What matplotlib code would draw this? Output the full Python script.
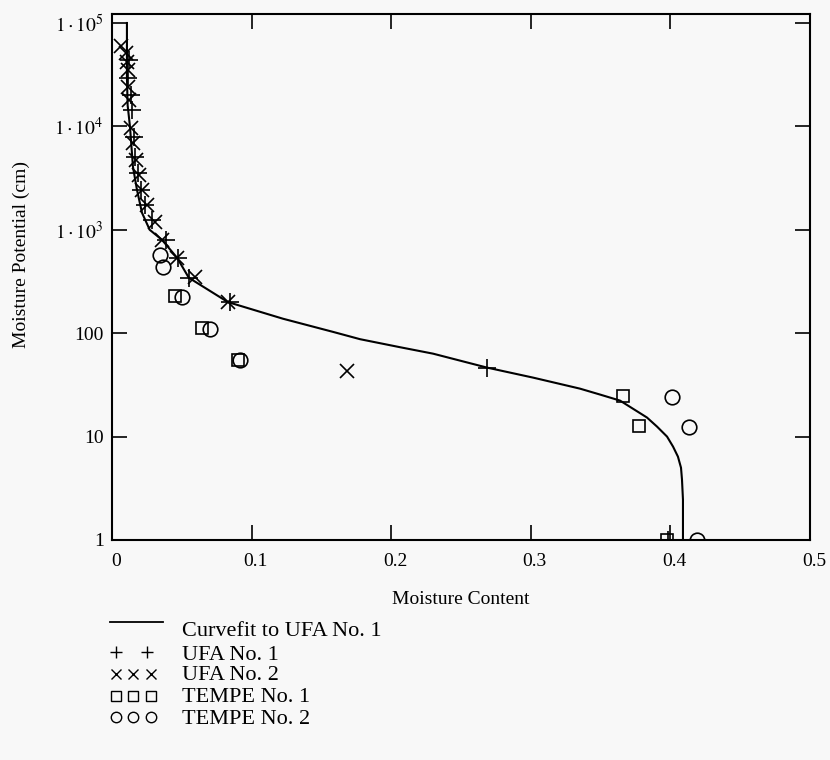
import matplotlib
matplotlib.use("Agg")
import matplotlib.pyplot as plt
import matplotlib.transforms as mtransforms
from matplotlib.lines import Line2D

plt.rcParams["font.family"] = ["Liberation Serif", "DejaVu Serif"]
plt.rcParams["mathtext.fontset"] = "stix"

# curve fit to UFA No. 1 (moisture content, potential in cm)
curve_theta = [0.0107, 0.0107, 0.0112, 0.0129, 0.0150, 0.0179, 0.0215, 0.0270, 0.0358, 0.0466,
               0.0550, 0.0830, 0.1225, 0.1583, 0.1777, 0.2063, 0.2300, 0.2686, 0.3016, 0.3352,
               0.3496, 0.3639, 0.3832, 0.3904, 0.3976, 0.4019, 0.4054, 0.4076, 0.4083, 0.4090,
               0.4090, 0.4090]
curve_h = [1e5, 3e4, 1.6e4, 9890, 4070, 2430, 1460, 1000, 800, 537,
           344, 200, 138, 103, 87.5, 73.2, 63.4, 46.5, 37.2, 29.1,
           25.5, 22.3, 15.3, 12.5, 10, 8.0, 6.4, 5.0, 3.84, 2.46,
           2.0, 1.0]

# UFA No. 1
ufa1_theta = [0.0122, 0.0115, 0.0136, 0.0143, 0.0158, 0.0165, 0.0186, 0.0208, 0.0236, 0.0287,
              0.0387, 0.0473, 0.0552, 0.0845, 0.2686, 0.3983]
ufa1_h = [43950, 29400, 20100, 14400, 7920, 5070, 3550, 2430, 1745, 1250,
          800, 536, 344, 201, 46.4, 1.0]

# UFA No. 2
ufa2_theta = [0.0064, 0.0100, 0.0107, 0.0115, 0.0115, 0.0122, 0.0136, 0.0150, 0.0172, 0.0193,
              0.0215, 0.0251, 0.0308, 0.0358, 0.0466, 0.0595, 0.0831, 0.1683]
ufa2_h = [60000, 51300, 42000, 35100, 24100, 18000, 9700, 6930, 4740, 3400,
          2430, 1745, 1195, 800, 536, 351, 201, 43.4]

# TEMPE No. 1
tempe1_theta = [0.0451, 0.0645, 0.0903, 0.366, 0.3775, 0.3976]
tempe1_h = [229, 113, 55.5, 24.9, 12.8, 1.0]

# TEMPE No. 2
tempe2_theta = [0.0344, 0.0365, 0.0501, 0.0702, 0.0917, 0.401, 0.4134, 0.419]
tempe2_h = [573, 440, 225, 110, 55.5, 24.4, 12.5, 1.0]

x_ticks = [0, 0.1, 0.2, 0.3, 0.4, 0.5]
x_labels = ["0", "0.1", "0.2", "0.3", "0.4", "0.5"]
y_ticks = [1, 10, 100, 1e3, 1e4, 1e5]
y_labels = ["1", "10", "100", r"$1\cdot10^{3}$", r"$1\cdot10^{4}$", r"$1\cdot10^{5}$"]

legend_labels = ["Curvefit to UFA No. 1", "UFA No. 1", "UFA No. 2", "TEMPE No. 1", "TEMPE No. 2"]

W, H = 830, 760
bg = "#f8f8f8"
fig = plt.figure(figsize=(W / 100, H / 100), dpi=100, facecolor=bg)
ax = fig.add_axes([112 / W, 1 - 540 / H, 698 / W, 526 / H], facecolor=bg)

ax.plot(curve_theta, curve_h, color="black", lw=1.5)
mk = dict(linestyle="none", color="black", mfc="none", mew=1.2)
ax.plot(ufa1_theta, ufa1_h, marker="+", ms=13, **mk)
ax.plot(ufa2_theta, ufa2_h, marker="x", ms=10, **mk)
ax.plot(tempe1_theta, tempe1_h, marker="s", ms=9, **mk)
ax.plot(tempe2_theta, tempe2_h, marker="o", ms=10.5, **mk)

ax.set_yscale("log")
ax.set_xlim(0, 0.5)
ax.set_ylim(1, 10 ** 5.087)
ax.set_xticks(x_ticks, x_labels)
ax.set_yticks(y_ticks, y_labels)
ax.minorticks_off()
ax.tick_params(direction="in", length=11, width=1.2, labelsize=14,
               top=True, right=True)
ax.tick_params(axis="x", pad=9)
ax.tick_params(axis="y", pad=6)
for sp in ax.spines.values():
    sp.set_linewidth(1.5)

# labels sit a little right of their ticks in the original
shift = mtransforms.ScaledTranslation(4 / 100, 0, fig.dpi_scale_trans)
for lab in ax.get_xticklabels():
    lab.set_transform(lab.get_transform() + shift)

ax.set_xlabel("Moisture Content", fontsize=14, va="center")
ax.xaxis.set_label_coords(0.5, (540 - 600) / 526)
ax.set_ylabel("Moisture Potential (cm)", fontsize=14, va="center")
ax.yaxis.set_label_coords((21 - 112) / 698, (540 - 254) / 526)


# legend drawn below the plot
def fx(x):
    return x / W


def fy(y):
    return 1 - y / H


fig.add_artist(Line2D([fx(110), fx(163)], [fy(622), fy(622)], color="black", lw=1.3))
rows = [
    ("+", [116, 147], 652, 9),
    ("x", [116, 133, 151], 674, 7),
    ("s", [116, 133, 151], 696, 6.5),
    ("o", [116, 133, 151], 717, 7.5),
]
for m, xs, y, s in rows:
    fig.add_artist(Line2D([fx(v) for v in xs], [fy(y)] * len(xs), linestyle="none",
                          marker=m, ms=s, mew=1.0, mfc="none", color="black"))
for lab, y in zip(legend_labels, [631, 655, 676, 698, 719]):
    fig.text(fx(182), fy(y), lab, fontsize=16, va="center", ha="left")

fig.savefig("out.png", dpi=100, facecolor=bg)
